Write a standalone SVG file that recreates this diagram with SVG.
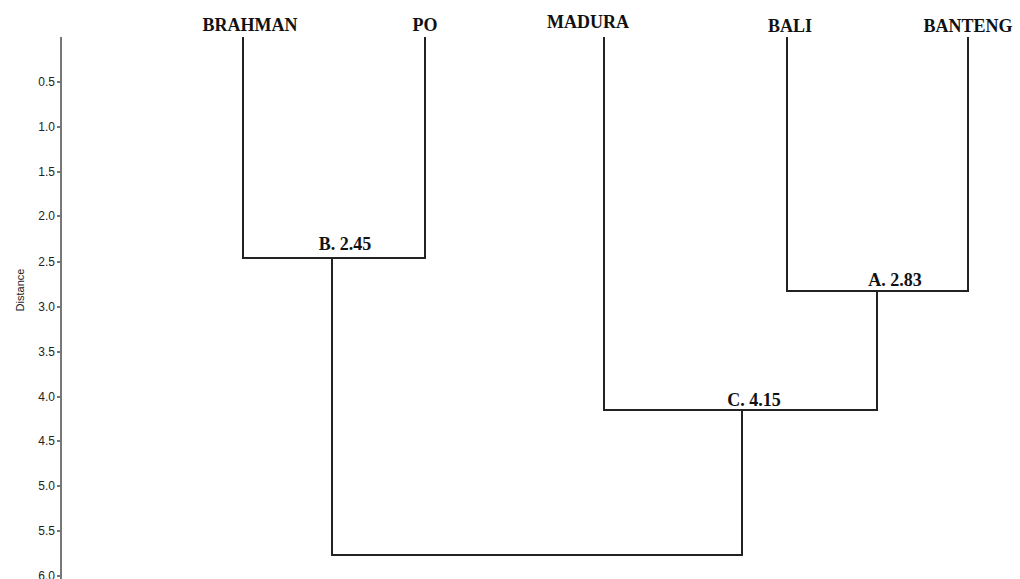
<svg xmlns="http://www.w3.org/2000/svg" width="1020" height="579" viewBox="0 0 1020 579">
<style>
.leaf{font-family:"Liberation Serif",serif;font-weight:bold;font-size:18px;fill:#111;text-anchor:middle}
.nl{font-family:"Liberation Serif",serif;font-weight:bold;font-size:18px;fill:#111;text-anchor:middle}
.tick{font-family:"Liberation Sans",sans-serif;font-size:12px;fill:#222;text-anchor:end}
.br{fill:none;stroke:#222;stroke-width:2}
.ax{stroke:#777;stroke-width:2;fill:none}
</style>
<rect width="1020" height="579" fill="#fff"/>
<g id="axis">
<line class="ax" x1="61" y1="37" x2="61" y2="579"/>
<path class="ax" stroke-width="1.3" d="M57 82H61M57 127H61M57 172H61M57 216H61M57 262H61M57 307H61M57 352H61M57 397H61M57 441H61M57 486H61M57 531H61M57 576H61"/>
<text class="tick" x="55" y="86">0.5</text>
<text class="tick" x="55" y="131">1.0</text>
<text class="tick" x="55" y="176">1.5</text>
<text class="tick" x="55" y="220">2.0</text>
<text class="tick" x="55" y="266">2.5</text>
<text class="tick" x="55" y="311">3.0</text>
<text class="tick" x="55" y="356">3.5</text>
<text class="tick" x="55" y="401">4.0</text>
<text class="tick" x="55" y="445">4.5</text>
<text class="tick" x="55" y="490">5.0</text>
<text class="tick" x="55" y="535">5.5</text>
<text class="tick" x="55" y="580">6.0</text>
<text font-family="Liberation Sans, sans-serif" font-size="11" fill="#222" text-anchor="middle" transform="translate(24 290) rotate(-90)">Distance</text>
</g>
<g id="leaf-brahman"><text class="leaf" x="250" y="31">BRAHMAN</text></g>
<g id="leaf-po"><text class="leaf" x="425" y="31">PO</text></g>
<g id="leaf-madura"><text class="leaf" x="588" y="28">MADURA</text></g>
<g id="leaf-bali"><text class="leaf" x="790" y="32">BALI</text></g>
<g id="leaf-banteng"><text class="leaf" x="968" y="32">BANTENG</text></g>
<g id="node-b"><text class="nl" x="345" y="250">B. 2.45</text></g>
<g id="node-a"><text class="nl" x="895" y="286">A. 2.83</text></g>
<g id="node-c"><text class="nl" x="754" y="406">C. 4.15</text></g>
<g id="connectors">
<path class="br" d="M243 37V258H425V37"/>
<path class="br" d="M787 37V291H968V37"/>
<path class="br" d="M604 37V410H877V291"/>
<path class="br" d="M332 258V555H742V410"/>
</g>
</svg>
